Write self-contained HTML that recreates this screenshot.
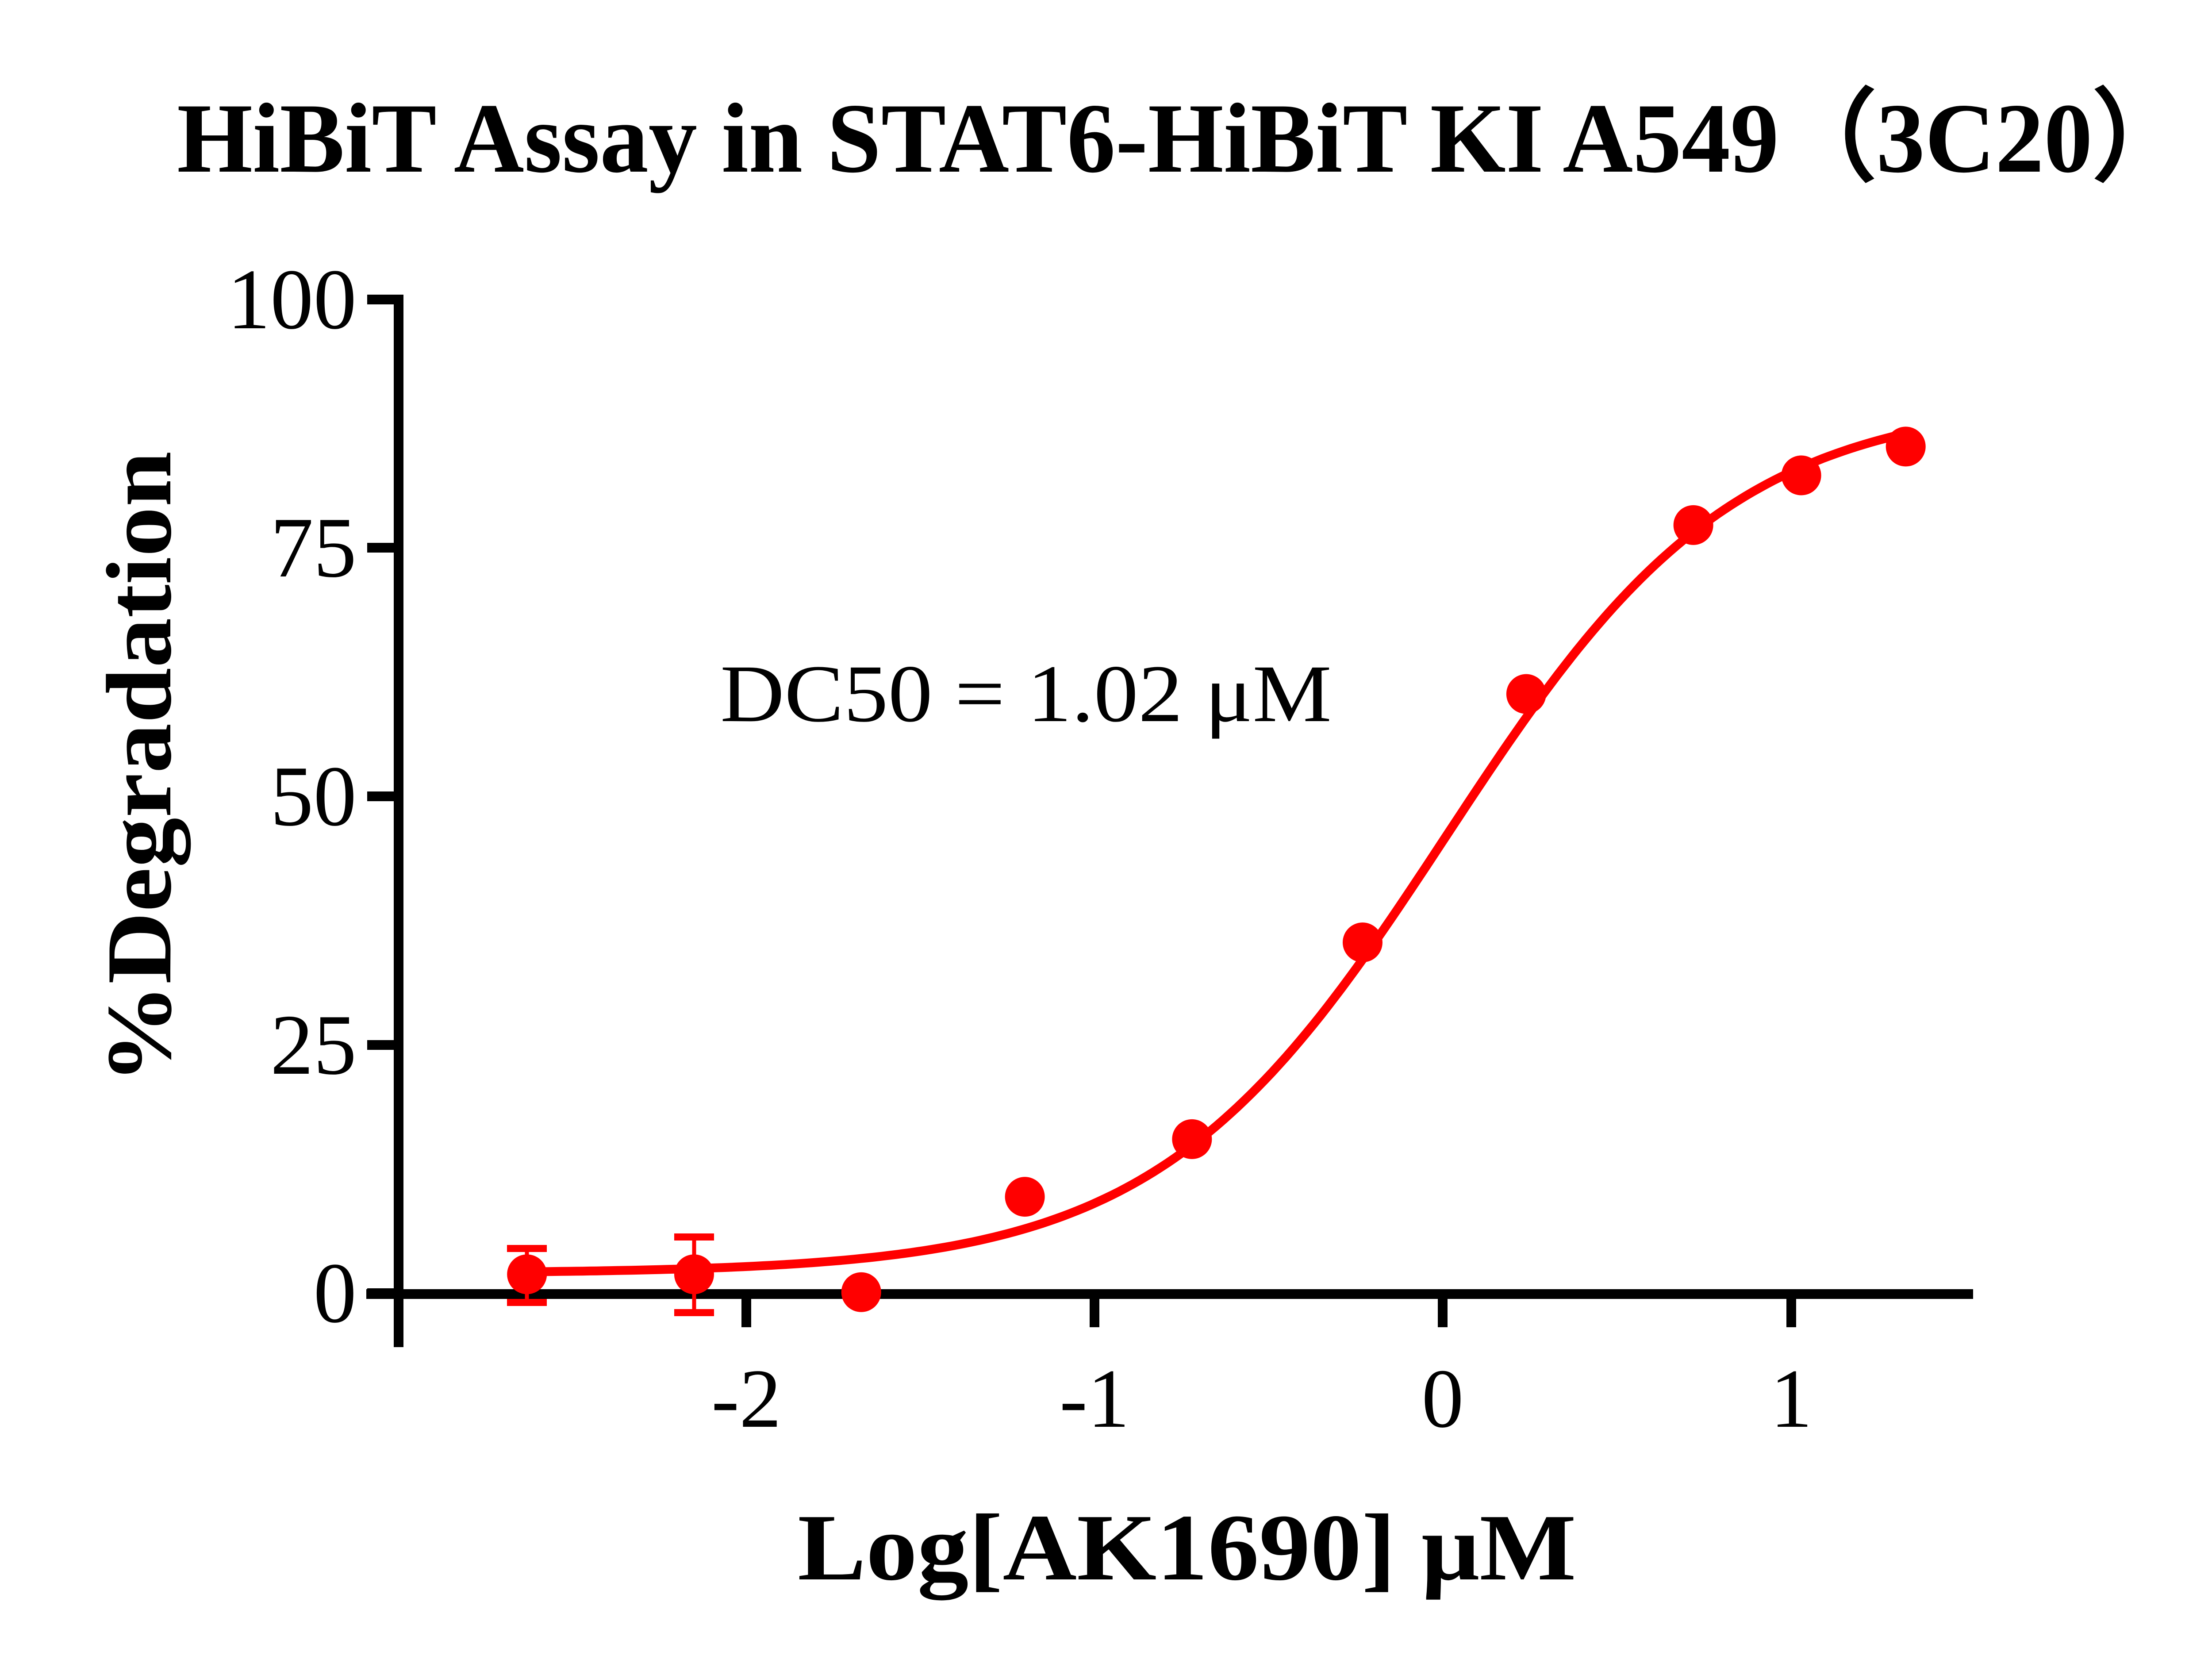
<!DOCTYPE html>
<html><head><meta charset="utf-8"><style>html,body{margin:0;padding:0;background:#fff}svg{display:block}</style></head>
<body>
<svg id="s" width="5132" height="3768" viewBox="0 0 5132 3768" xmlns="http://www.w3.org/2000/svg" font-family="Liberation Serif, serif">
<rect width="5132" height="3768" fill="#fff"/>
<text x="400" y="388" font-size="225" font-weight="bold" textLength="4550" lengthAdjust="spacingAndGlyphs">HiBiT Assay in STAT6-HiBiT KI A549（3C20）</text>
<g stroke="#000" stroke-width="22" fill="none">
<line x1="901" y1="666" x2="901" y2="3045"/>
<line x1="828" y1="2925" x2="4460" y2="2925"/>
<line x1="830" y1="677" x2="901" y2="677"/>
<line x1="830" y1="1238" x2="901" y2="1238"/>
<line x1="830" y1="1800" x2="901" y2="1800"/>
<line x1="830" y1="2362" x2="901" y2="2362"/>
<line x1="830" y1="2923" x2="901" y2="2923"/>
<line x1="1687" y1="2925" x2="1687" y2="3000"/>
<line x1="2474" y1="2925" x2="2474" y2="3000"/>
<line x1="3261" y1="2925" x2="3261" y2="3000"/>
<line x1="4049" y1="2925" x2="4049" y2="3000"/>
</g>
<g font-size="195" text-anchor="end">
<text x="806" y="742">100</text>
<text x="806" y="1303">75</text>
<text x="806" y="1865">50</text>
<text x="806" y="2427">25</text>
<text x="806" y="2988">0</text>
</g>
<g font-size="190" text-anchor="middle">
<text x="1687" y="3225">-2</text>
<text x="2474" y="3225">-1</text>
<text x="3261" y="3225">0</text>
<text x="4049" y="3225">1</text>
</g>
<text x="1803" y="3570" font-size="215" font-weight="bold" textLength="1760" lengthAdjust="spacingAndGlyphs">Log[AK1690] μM</text>
<text transform="translate(385,1735) rotate(-90)" font-size="210" font-weight="bold" text-anchor="middle" textLength="1430" lengthAdjust="spacingAndGlyphs">%Degradation</text>
<text x="1628" y="1630" font-size="185" textLength="1382" lengthAdjust="spacingAndGlyphs">DC50 = 1.02 μM</text>
<path id="curve" fill="none" stroke="#f00" stroke-width="20" stroke-linejoin="round"/>
<g stroke="#f00" stroke-width="9" fill="#f00">
<line x1="1191" y1="2822" x2="1191" y2="2944"/><line x1="1146" y1="2822" x2="1236" y2="2822" stroke-width="16"/><line x1="1146" y1="2944" x2="1236" y2="2944" stroke-width="16"/>
<line x1="1569" y1="2796" x2="1569" y2="2967"/><line x1="1524" y1="2796" x2="1614" y2="2796" stroke-width="16"/><line x1="1524" y1="2967" x2="1614" y2="2967" stroke-width="16"/>
</g>
<g id="pts" fill="#f00"></g>
</svg>
<script>
var X=function(x){return 3261+787*x},Y=function(y){return 2923-22.46*y};
var f=function(x){return 2+88/(1+Math.pow(10,1.05*(0.01-x)))};
var d="";for(var x=-2.63;x<=1.331;x+=0.02){d+=(d?"L":"M")+X(x).toFixed(1)+","+Y(f(x)).toFixed(1);}
document.getElementById("curve").setAttribute("d",d);
var p=[[-2.63,1.9],[-2.15,1.9],[-1.67,0.1],[-1.20,9.7],[-0.72,15.5],[-0.23,35.3],[0.24,60.3],[0.72,77.3],[1.03,82.3],[1.33,85.2]];
var g=document.getElementById("pts"),h="";
p.forEach(function(q){h+='<circle cx="'+X(q[0])+'" cy="'+Y(q[1])+'" r="45"/>';});
g.innerHTML=h;
</script>
</body></html>
